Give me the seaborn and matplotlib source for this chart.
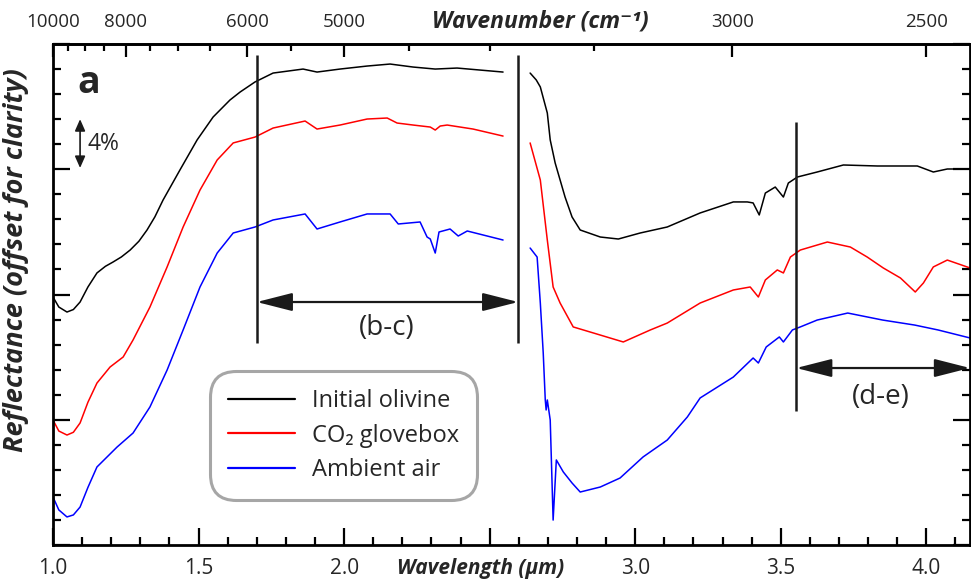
import numpy as np
import pandas as pd
import seaborn as sns
import matplotlib.pyplot as plt
from matplotlib.ticker import MultipleLocator, FixedLocator, FuncFormatter

# Espectros (comprimento de onda em um, reflectancia em % com offset)
black_vis_wl = [1.000, 1.020, 1.048, 1.070, 1.093, 1.120, 1.151, 1.180, 1.206, 1.235, 1.265, 1.295,
                1.323, 1.350, 1.378, 1.436, 1.495, 1.550, 1.608, 1.643, 1.694, 1.756, 1.859, 1.907,
                1.986, 2.079, 2.158, 2.237, 2.313, 2.388, 2.546]
black_vis_r = [19.80, 19.00, 18.60, 18.80, 19.40, 20.60, 21.72, 22.25, 22.59, 23.00, 23.55, 24.25,
               25.15, 26.20, 27.54, 29.94, 32.34, 34.17, 35.53, 36.17, 36.97, 37.68, 38.00, 37.76,
               38.00, 38.24, 38.40, 38.16, 38.00, 38.08, 37.76]
black_ir_wl = [2.639, 2.660, 2.674, 2.698, 2.708, 2.725, 2.759, 2.783, 2.811, 2.880, 2.942, 3.017,
               3.110, 3.223, 3.337, 3.385, 3.405, 3.426, 3.447, 3.481, 3.509, 3.526, 3.557, 3.625,
               3.715, 3.832, 3.969, 4.024, 4.072, 4.150]
black_ir_r = [37.68, 37.13, 36.57, 34.49, 32.34, 30.50, 27.78, 26.19, 25.15, 24.59, 24.43, 24.91,
              25.39, 26.51, 27.39, 27.39, 27.31, 26.35, 28.10, 28.58, 27.78, 28.90, 29.38, 29.78,
              30.34, 30.26, 30.26, 29.78, 30.02, 30.02]

red_vis_wl = [1.000, 1.020, 1.048, 1.070, 1.093, 1.120, 1.151, 1.196, 1.241, 1.275, 1.333, 1.392,
              1.447, 1.505, 1.564, 1.619, 1.694, 1.756, 1.866, 1.907, 1.986, 2.079, 2.148, 2.182,
              2.237, 2.296, 2.313, 2.330, 2.354, 2.443, 2.546]
red_vis_r = [9.98, 9.10, 8.78, 9.00, 9.74, 11.40, 12.93, 14.21, 15.01, 16.37, 19.00, 22.20,
             25.39, 28.34, 30.74, 32.10, 32.57, 33.29, 33.85, 33.21, 33.53, 34.01, 34.09, 33.69,
             33.53, 33.37, 33.13, 33.45, 33.53, 33.21, 32.65]
red_ir_wl = [2.639, 2.674, 2.698, 2.718, 2.742, 2.787, 2.856, 2.959, 3.052, 3.110, 3.223, 3.337,
             3.395, 3.423, 3.447, 3.488, 3.509, 3.533, 3.567, 3.660, 3.739, 3.797, 3.852, 3.911,
             3.962, 3.990, 4.024, 4.072, 4.150]
red_ir_r = [32.10, 29.14, 24.35, 20.60, 19.32, 17.41, 16.93, 16.21, 17.17, 17.72, 19.32, 20.36,
            20.60, 19.80, 21.16, 21.96, 21.72, 22.99, 23.55, 24.19, 23.79, 22.99, 22.12, 21.32,
            20.20, 20.92, 22.20, 22.75, 22.12]

blue_vis_wl = [1.000, 1.020, 1.048, 1.070, 1.093, 1.120, 1.151, 1.220, 1.275, 1.333, 1.392, 1.447,
               1.505, 1.564, 1.619, 1.694, 1.756, 1.866, 1.907, 1.986, 2.079, 2.158, 2.186, 2.261,
               2.285, 2.296, 2.313, 2.326, 2.364, 2.392, 2.423, 2.546]
blue_vis_r = [3.83, 2.80, 2.24, 2.40, 3.03, 4.60, 6.23, 7.82, 8.94, 11.02, 13.97, 17.17,
              20.60, 23.31, 24.91, 25.39, 25.95, 26.43, 25.23, 25.79, 26.43, 26.43, 25.63, 25.79,
              24.59, 24.43, 23.31, 24.99, 25.23, 24.67, 25.07, 24.35]
blue_ir_wl = [2.639, 2.663, 2.674, 2.684, 2.691, 2.694, 2.698, 2.708, 2.718, 2.729, 2.753, 2.783,
              2.811, 2.880, 2.948, 3.027, 3.110, 3.179, 3.223, 3.337, 3.405, 3.423, 3.450, 3.495,
              3.509, 3.540, 3.567, 3.625, 3.730, 3.850, 3.960, 4.040, 4.150]
blue_ir_r = [23.71, 22.99, 19.32, 15.33, 11.58, 10.78, 11.58, 9.98, 1.99, 6.79, 5.83, 4.95,
             4.23, 4.63, 5.35, 7.03, 8.38, 10.22, 11.74, 13.41, 14.93, 14.53, 15.81, 16.61,
             16.21, 17.17, 17.41, 17.96, 18.52, 17.96, 17.56, 17.17, 16.53]

samples = ['Initial olivine', 'CO\u2082 glovebox', 'Ambient air']
colors = ['black', '#ff0000', '#0000ff']

wn_labels = [10000, 8000, 6000, 5000, 3000, 2500]
wn_minor = [9500, 9000, 8500, 7500, 7000, 6500, 5500, 4500, 4000, 3500]

# montar tabela longa
partes = []
for nome, segs in zip(samples, [
        [(black_vis_wl, black_vis_r), (black_ir_wl, black_ir_r)],
        [(red_vis_wl, red_vis_r), (red_ir_wl, red_ir_r)],
        [(blue_vis_wl, blue_vis_r), (blue_ir_wl, blue_ir_r)]]):
    for k, (wl, r) in enumerate(segs):
        partes.append(pd.DataFrame({'wl': wl, 'refl': r, 'amostra': nome, 'seg': k}))
df = pd.concat(partes, ignore_index=True)

sns.set_style('ticks')
plt.rcParams['font.family'] = ['Open Sans', 'DejaVu Sans']

fig = plt.figure(figsize=(9.71, 5.85), dpi=100)
ax = fig.add_axes([53 / 971, 40 / 585, 917 / 971, 501 / 585])

sns.lineplot(data=df, x='wl', y='refl', hue='amostra', units='seg', estimator=None,
             hue_order=samples, palette=dict(zip(samples, colors)), linewidth=1.1,
             ax=ax)

ax.set_xlim(1.0, 4.15)
ax.set_ylim(0, 40)

for s in ax.spines.values():
    s.set_linewidth(2)
    s.set_color('black')

ax.xaxis.set_major_locator(MultipleLocator(0.5))
ax.xaxis.set_minor_locator(MultipleLocator(0.1))
ax.xaxis.set_major_formatter(FuncFormatter(lambda v, p: '' if abs(v - 2.5) < 1e-6 else f'{v:.1f}'))
ax.yaxis.set_major_locator(MultipleLocator(10))
ax.yaxis.set_minor_locator(MultipleLocator(2))
ax.yaxis.set_major_formatter(FuncFormatter(lambda v, p: ''))
ax.tick_params(which='both', direction='in', left=True, right=True, bottom=True, top=False,
               width=1.6, color='black')
ax.tick_params(which='major', length=12)
ax.tick_params(which='minor', length=6)
ax.tick_params(axis='x', which='major', labelsize=15, pad=9)


def to_wn(x):
    x = np.asarray(x, dtype=float)
    with np.errstate(divide='ignore'):
        return 1e4 / x


sec = ax.secondary_xaxis('top', functions=(to_wn, to_wn))
sec.xaxis.set_major_locator(FixedLocator(wn_labels))
sec.xaxis.set_minor_locator(FixedLocator(wn_minor))
sec.xaxis.set_major_formatter(FuncFormatter(lambda v, p: f'{v:.0f}'))
sec.tick_params(which='both', direction='in', width=1.6, color='black')
sec.tick_params(which='major', length=9, labelsize=13.5, pad=9)
sec.tick_params(which='minor', length=5)
sec.spines['top'].set_linewidth(2)

lab = dict(fontweight='bold', fontstyle='italic')
ax.set_xlabel('Wavelength (\u00b5m)', fontsize=15, **lab)
ax.xaxis.set_label_coords(0.466, -0.046)
ax.xaxis.label.set_va('center')
sec.set_xlabel('Wavenumber (cm\u207b\u00b9)', fontsize=16.5, **lab)
sec.xaxis.set_label_coords(0.531, 1.045, transform=ax.transAxes)
sec.xaxis.label.set_va('center')
ax.set_ylabel('Reflectance (offset for clarity)', fontsize=19.5, **lab)
ax.yaxis.set_label_coords(-0.040, 0.569)
ax.yaxis.label.set_va('center')

# linhas verticais e setas
ax.vlines([1.7, 2.598], 16.13, 39.12, color='#1a1a1a', lw=1.8)
ax.vlines(3.553, 10.70, 33.77, color='#1a1a1a', lw=1.8)
seta = dict(arrowstyle='<|-|>,head_length=1.1,head_width=0.28', color='#1a1a1a', lw=1.6,
            mutation_scale=20, shrinkA=0, shrinkB=0)
ax.annotate('', xy=(1.7, 19.4), xytext=(2.598, 19.4), arrowprops=seta)
ax.annotate('', xy=(3.553, 14.13), xytext=(4.15, 14.13), arrowprops=seta, annotation_clip=False)
ax.text(2.148, 17.3, '(b-c)', fontsize=20, ha='center', va='center')
ax.text(3.842, 11.8, '(d-e)', fontsize=20, ha='center', va='center')

ax.annotate('', xy=(1.093, 34.0), xytext=(1.093, 30.1),
            arrowprops=dict(arrowstyle='<|-|>,head_length=0.5,head_width=0.22', color='#1a1a1a',
                            lw=1.2, mutation_scale=14, shrinkA=0, shrinkB=0))
ax.text(1.118, 32.0, '4%', fontsize=16.5, ha='left', va='center')
ax.text(1.085, 36.9, 'a', fontsize=27, fontweight='bold', ha='left', va='center')

h, l = ax.get_legend_handles_labels()
leg = ax.legend(h, l, loc='lower left', bbox_to_anchor=(0.171, 0.09), fontsize=17,
                handlelength=2.85, handletextpad=0.72, labelspacing=0.45, borderpad=0.75,
                borderaxespad=0, frameon=True, fancybox=True)
fr = leg.get_frame()
fr.set_edgecolor('#909090')
fr.set_linewidth(2.2)
fr.set_boxstyle('round', pad=0.0, rounding_size=1.1)
for ln in leg.get_lines():
    ln.set_linewidth(1.6)

fig.savefig('out.png', dpi=100)
